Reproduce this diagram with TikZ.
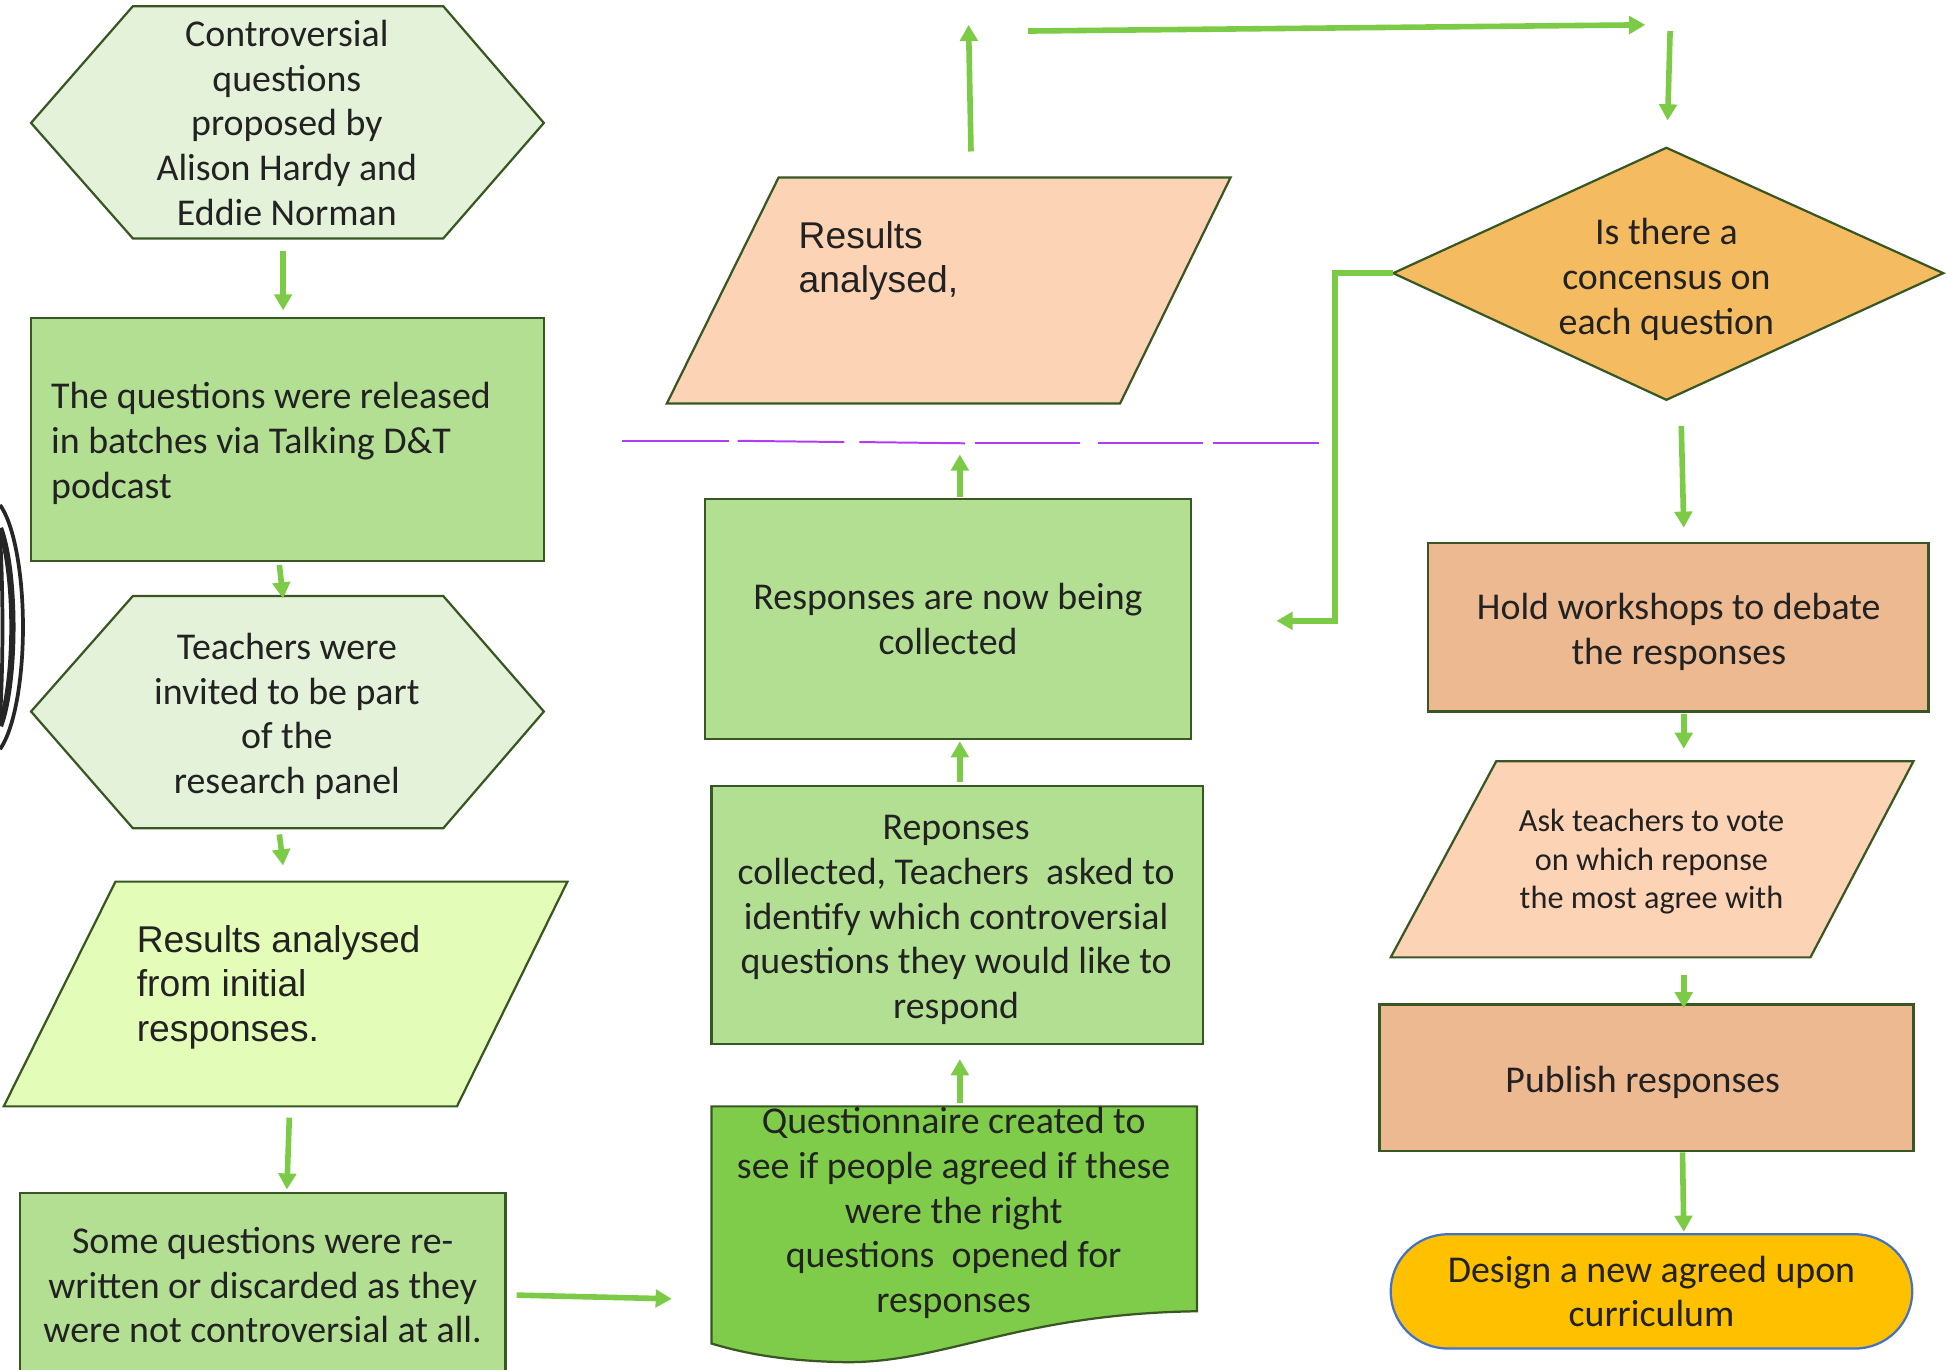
\documentclass[tikz,border=0pt]{standalone}
\usepackage{fontspec}
\newfontfamily\carl{Carlito}
\newfontfamily\arl{Liberation Sans}
\usetikzlibrary{arrows.meta}
\definecolor{edgec}{HTML}{385723}
\definecolor{hexfill}{HTML}{E3F2D9}
\definecolor{boxfill}{HTML}{B3DF93}
\definecolor{paleyel}{HTML}{E3FCB7}
\definecolor{docfill}{HTML}{7FCC4A}
\definecolor{peach}{HTML}{FCD3B5}
\definecolor{tanfill}{HTML}{ECB991}
\definecolor{orangefill}{HTML}{F4BB61}
\definecolor{goldfill}{HTML}{FFC000}
\definecolor{bluedge}{HTML}{4472C4}
\definecolor{arrowc}{HTML}{7CCB47}
\definecolor{txtc}{HTML}{222222}
\definecolor{purp}{HTML}{B23CF2}
\definecolor{arcc}{HTML}{262626}
\begin{document}
\begin{tikzpicture}[x=1pt,y=-1pt,
  outline/.style={draw=edgec, line width=1.8pt, line join=miter},
  tx/.style={text=txtc, font=\carl\fontsize{30.5}{36}\selectfont, align=center, inner sep=0pt},
  atx/.style={text=txtc, font=\arl\fontsize{30}{36}\selectfont, align=left, inner sep=0pt, anchor=west},
  box/.style={outline, rectangle, tx},
  conn/.style={draw=arrowc, line width=4.5pt, -{Triangle[width=14pt,length=13pt]}},
  dashseg/.style={draw=purp, line width=1.6pt}
]
\useasboundingbox (0,0) rectangle (1568,1103);
\clip (0,0) rectangle (1568,1103);

% black arcs at the left edge
\draw[arcc, line width=3pt] (-10,505) ++(-69.5:28.5 and 105) arc[start angle=-69.5, end angle=69.5, x radius=28.5, y radius=105];
\draw[arcc, line width=5pt] (-10,505) ++(-60:20 and 92) arc[start angle=-60, end angle=60, x radius=20, y radius=92];
\draw[arcc, line width=3pt] (-60,505) ++(-14.6:62 and 300) arc[start angle=-14.6, end angle=14.6, x radius=62, y radius=300];

% left column
\draw[outline, fill=hexfill] (25,99) -- (107,5) -- (357,5) -- (438,99) -- (357,192) -- (107,192) -- cycle;
\node[tx] (A) at (231,99) {Controversial\\questions\\proposed by\\Alison Hardy and\\Eddie Norman};

\node[box, fill=boxfill, minimum width=413pt, minimum height=196pt] (B) at (231.5,354) {};
\node[tx, align=left, anchor=west] (Bt) at (41,357) {The questions were released\\in batches via Talking D\&T\\podcast};

\draw[outline, fill=hexfill] (25,573) -- (107,480) -- (357,480) -- (438,573) -- (357,667) -- (107,667) -- cycle;
\node[tx] (C) at (231,577) {Teachers were\\invited to be part\\of the\\research panel};

\draw[outline, fill=paleyel] (93,710) -- (457,710) -- (368,891) -- (3,891) -- cycle;
\node[atx] (D) at (110,795) {Results analysed\\from initial\\responses.};

\node[box, fill=boxfill, minimum width=391pt, minimum height=148pt] (E) at (211.5,1035) {Some questions were re-\\written or discarded as they\\were not controversial at all.};

% middle column
\draw[outline, fill=docfill] (573,891) -- (964,891) -- (964,1056) .. controls (820,1058) and (760,1098) .. (680,1097) .. controls (630,1096) and (600,1090) .. (573,1082) -- cycle;
\node[tx] (F) at (768,977) {Questionnaire created to\\see if people agreed if these\\were the right\\questions\ \ opened for\\responses};

\node[box, fill=boxfill, minimum width=396pt, minimum height=208pt] (G) at (771,737) {};
\node[tx] (Gt) at (770,741) {Reponses\\collected, Teachers\ \ asked to\\identify which controversial\\questions they would like to\\respond};

\node[box, fill=boxfill, minimum width=391pt, minimum height=193pt] (H) at (763.5,498.5) {Responses are now being\\collected};

\draw[dashseg] (501,355) -- (587,355);
\draw[dashseg] (594,355) -- (680,356);
\draw[dashseg] (692,356) -- (777,357);
\draw[dashseg] (785,357) -- (870,357);
\draw[dashseg] (884,357) -- (969,357);
\draw[dashseg] (977,357) -- (1062,357);

\draw[outline, fill=peach] (627,143) -- (991,143) -- (902,325) -- (537,325) -- cycle;
\node[atx] (I) at (643,210) {Results\\analysed,};

% right column
\draw[outline, fill=orangefill] (1342,119) -- (1565,220) -- (1342,322) -- (1122,220) -- cycle;
\node[tx] (J) at (1342,225) {Is there a\\concensus on\\each question};

\node[box, fill=tanfill, minimum width=403pt, minimum height=136pt] (K) at (1351.5,505) {};
\node[tx] (Kt) at (1352,509) {Hold workshops to debate\\the responses};

\draw[outline, fill=peach] (1205,613) -- (1541,613) -- (1458,771) -- (1120,771) -- cycle;
\node[tx, font=\carl\fontsize{26}{31}\selectfont] (L) at (1330,694) {Ask teachers to vote\\on which reponse\\the most agree with};

\node[box, fill=tanfill, minimum width=430pt, minimum height=118pt] (M) at (1326,868) {};
\node[tx] (Mt) at (1323,872) {Publish responses};

\node[box, draw=bluedge, fill=goldfill, rounded corners=46pt, minimum width=420pt, minimum height=92pt] (N) at (1330,1040) {Design a new agreed upon\\curriculum};

% connector end points
\coordinate (a1) at (228,202); \coordinate (b1) at (228,250);
\coordinate (a2) at (225,455); \coordinate (b2) at (228,482);
\coordinate (a3) at (225,672); \coordinate (b3) at (228,697);
\coordinate (a4) at (233,900); \coordinate (b4) at (231,958);
\coordinate (a5) at (416,1043); \coordinate (b5) at (541,1046);
\coordinate (a6) at (773,888); \coordinate (b6) at (773,853);
\coordinate (a7) at (773,630); \coordinate (b7) at (773,597);
\coordinate (a8) at (773,400); \coordinate (b8) at (773,366);
\coordinate (a9) at (782,122); \coordinate (b9) at (780,20);
\coordinate (a10) at (828,25); \coordinate (b10) at (1325,20);
\coordinate (a11) at (1345,25); \coordinate (b11) at (1343,97);
\coordinate (jl) at (1122,220); \coordinate (b12) at (1028,500);
\coordinate (a13) at (1354,343); \coordinate (b13) at (1356,425);
\coordinate (a14) at (1356,575); \coordinate (b14) at (1356,603);
\coordinate (a15) at (1356,785); \coordinate (b15) at (1356,812);
\coordinate (a16) at (1355,928); \coordinate (b16) at (1356,992);

\draw[conn] (a1) -- (b1);
\draw[conn] (a2) -- (b2);
\draw[conn] (a3) -- (b3);
\draw[conn] (a4) -- (b4);
\draw[conn] (a5) -- (b5);
\draw[conn] (a6) -- (b6);
\draw[conn] (a7) -- (b7);
\draw[conn] (a8) -- (b8);
\draw[conn] (a9) -- (b9);
\draw[conn] (a10) -- (b10);
\draw[conn] (a11) -- (b11);
\draw[conn, line join=miter] (jl) -- (1075,220) -- (1075,500) -- (b12);
\draw[conn] (a13) -- (b13);
\draw[conn] (a14) -- (b14);
\draw[conn] (a15) -- (b15);
\draw[conn] (a16) -- (b16);
\end{tikzpicture}
\end{document}
